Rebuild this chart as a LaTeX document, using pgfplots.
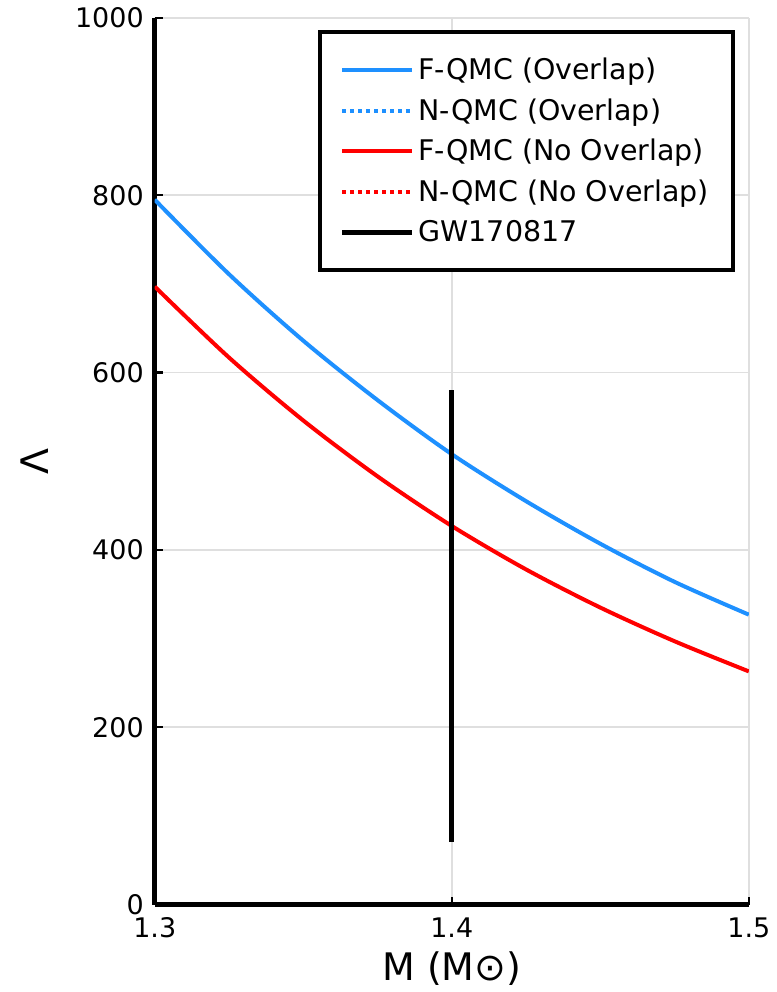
\documentclass[border=0pt]{standalone}
\usepackage{fontspec}
\setmainfont{DejaVu Sans}
\usepackage{pgfplots}
\pgfplotsset{compat=1.18}

\definecolor{qblue}{RGB}{30,144,255}
\definecolor{qred}{RGB}{255,0,0}

\begin{document}
\begin{tikzpicture}
  \begin{axis}[
      name=main,
      scale only axis,
      width=297.5pt, height=444pt,
      xmin=1.3, xmax=1.5,
      ymin=0, ymax=1000,
      xtick={1.3,1.4,1.5},
      ytick={0,200,400,600,800,1000},
      xticklabels={1.3,1.4,1.5},
      yticklabels={0,200,400,600,800,1000},
      /pgf/number format/assume math mode=true,
      axis x line*=bottom, axis y line*=left,
      axis line style={line width=2.5pt, -},
      tick align=inside,
      major tick length=4pt,
      tick style={line width=1.2pt, black},
      grid=major,
      major grid style={gray!25, line width=0.8pt},
      ticklabel style={font=\fontsize{13.5}{16}\selectfont},
      xticklabel style={yshift=-3pt},
      yticklabel style={xshift=-2pt},
      xlabel={M (M⊙)},
      ylabel={Λ},
      label style={font=\fontsize{19}{22}\selectfont},
      xlabel style={at={(axis description cs:0.5,0)}, anchor=center, yshift=-32pt},
      ylabel style={at={(axis description cs:-0.2017,0.5)}, anchor=center},
      legend style={
        at={(axis cs:1.5,1000)}, anchor=north east,
        xshift=-7pt, yshift=-6pt,
        draw=black, line width=2pt,
        font=\fontsize{14.25}{17}\selectfont,
        inner xsep=10pt, inner ysep=11pt,
        row sep=4pt,
        legend cell align=left,
      },
      legend image code/.code={
        \draw[#1, line width=2pt] (0pt,0pt) -- (28.5pt,0pt);
        \path (0pt,0pt) -- (35pt,0pt);
      },
    ]

    % F-QMC with overlap
    \addplot[qblue, line width=2pt, smooth] coordinates {
      (1.300,795) (1.325,711) (1.350,636) (1.375,569) (1.400,508)
      (1.425,455) (1.450,407) (1.475,364) (1.500,327)
    };
    \addlegendentry{F-QMC (Overlap)}
    \addlegendimage{qblue, dotted, line width=2pt}
    \addlegendentry{N-QMC (Overlap)}

    % F-QMC without overlap
    \addplot[qred, line width=2pt, smooth] coordinates {
      (1.300,697) (1.325,617) (1.350,546) (1.375,483) (1.400,427)
      (1.425,378) (1.450,335) (1.475,297) (1.500,263)
    };
    \addlegendentry{F-QMC (No Overlap)}
    \addlegendimage{qred, dotted, line width=2pt}
    \addlegendentry{N-QMC (No Overlap)}

    % GW170817 bound
    \addplot[black, line width=2.5pt] coordinates {(1.4,71) (1.4,580)};
    \addlegendentry{GW170817}
  \end{axis}
  \path ([xshift=-77.5pt,yshift=-43pt]main.south west) rectangle ([xshift=13.5pt,yshift=9pt]main.north east);
\end{tikzpicture}
\end{document}
